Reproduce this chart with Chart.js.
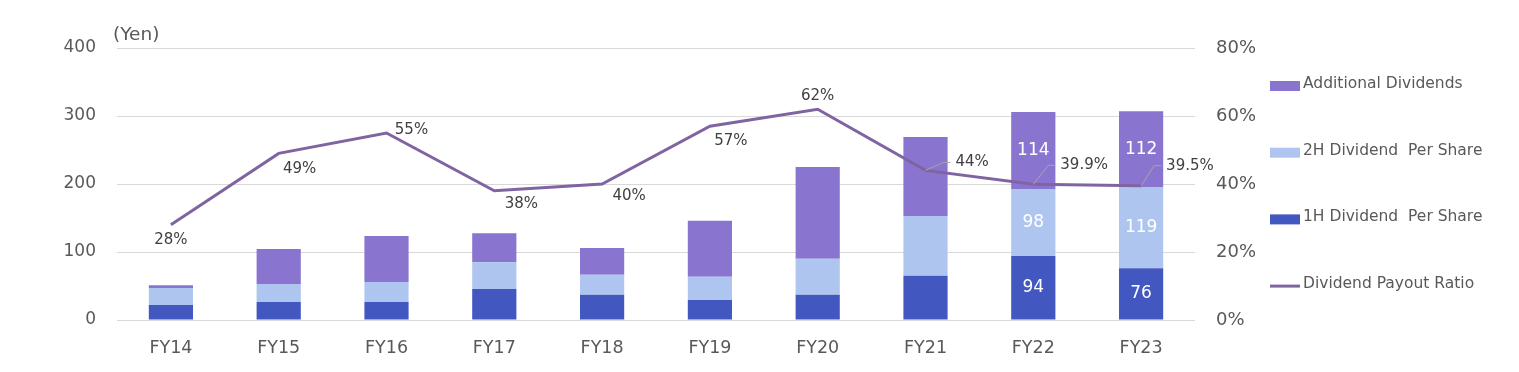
<!DOCTYPE html>
<html lang="en">
<head>
<meta charset="UTF-8">
<title>Dividends per share and payout ratio</title>
<script src="https://cdn.jsdelivr.net/npm/chart.js"></script>
<style>
  body { margin: 0; background: #fff; }
  #wrap { width: 1519px; height: 372px; position: relative; }
</style>
</head>
<body>
<div id="wrap"><canvas id="dividends"></canvas></div>
<script>
// data
const years = ['FY14', 'FY15', 'FY16', 'FY17', 'FY18', 'FY19', 'FY20', 'FY21', 'FY22', 'FY23'];
const firstHalf = [22, 26.5, 26.5, 45.5, 37, 29.5, 37, 65, 94, 76];
const secondHalf = [25, 26.5, 29.5, 39.5, 29.5, 34, 53, 88, 98, 119];
const additional = [4, 51.5, 67.5, 42.5, 39.5, 82.5, 135, 116, 114, 112];
const payoutRatio = [28, 49, 55, 38, 40, 57, 62, 44, 39.9, 39.5];
const payoutText = ['28%', '49%', '55%', '38%', '40%', '57%', '62%', '44%', '39.9%', '39.5%'];
const yenMax = 400, yenStep = 100;
const ratioMax = 80, ratioStep = 20;
const barLabelFrom = 8; // only the last two bars carry numbers

// where each ratio label sits relative to its point [dx, dy, leader?]
const ratioLabelPos = [[0, 15], [21, 16], [25, -3], [27, 13], [27, 12], [21, 15], [0, -13],
                       [30, -8, true], [27, -19, true], [25, -20, true]];

const FONT = '"DejaVu Sans", Verdana, sans-serif';
const TICK = '#595959';

const COLORS = {
  h1: '#4357C0',
  h2: '#AEC6EF',
  add: '#8975CF',
  line: '#8064A2'
};

// legend drawn by hand so it can sit like the original (wide spacing)
const legendOrder = [2, 1, 0, 3];

const extras = {
  id: 'extras',
  afterDatasetsDraw(chart) {
    const ctx = chart.ctx;
    ctx.save();
    // white numbers inside the last bars
    ctx.font = '17px ' + FONT;
    ctx.fillStyle = '#fff';
    ctx.textAlign = 'center';
    ctx.textBaseline = 'middle';
    [0, 1, 2].forEach(di => {
      const meta = chart.getDatasetMeta(di);
      meta.data.forEach((bar, i) => {
        if (i < barLabelFrom) return;
        const midY = (bar.y + bar.base) / 2;
        ctx.fillText(String(chart.data.datasets[di].data[i]), bar.x, midY);
      });
    });

    // payout ratio labels
    const lm = chart.getDatasetMeta(3);
    ctx.font = '15px ' + FONT;
    ctx.fillStyle = '#404040';
    lm.data.forEach((pt, i) => {
      const [dx, dy, leader] = ratioLabelPos[i];
      if (leader) {
        ctx.strokeStyle = '#A6A6A6';
        ctx.lineWidth = 1;
        ctx.beginPath();
        ctx.moveTo(pt.x, pt.y);
        ctx.lineTo(pt.x + dx - 12, pt.y + dy);
        ctx.lineTo(pt.x + dx - 5, pt.y + dy);
        ctx.stroke();
        ctx.textAlign = 'left';
        ctx.fillText(payoutText[i], pt.x + dx, pt.y + dy);
      } else {
        ctx.textAlign = 'center';
        ctx.fillText(payoutText[i], pt.x + dx, pt.y + dy);
      }
    });
    ctx.restore();
  },
  afterDraw(chart) {
    const ctx = chart.ctx;
    const area = chart.chartArea;
    ctx.save();
    ctx.font = '18.5px ' + FONT;
    ctx.fillStyle = TICK;
    ctx.textAlign = 'left';
    ctx.textBaseline = 'middle';
    ctx.fillText('(Yen)', area.left - 4, area.top - 13);

    // legend
    ctx.font = '15.5px ' + FONT;
    const x0 = area.right + 75;
    let y = 86;
    legendOrder.forEach(di => {
      const ds = chart.data.datasets[di];
      if (ds.type === 'line') {
        ctx.strokeStyle = ds.borderColor;
        ctx.lineWidth = 3;
        ctx.beginPath();
        ctx.moveTo(x0, y);
        ctx.lineTo(x0 + 30, y);
        ctx.stroke();
      } else {
        ctx.fillStyle = ds.backgroundColor;
        ctx.fillRect(x0, y - 5, 30, 10);
      }
      ctx.fillStyle = TICK;
      ctx.fillText(ds.label, x0 + 33, y - 2);
      y += 66.7;
    });
    ctx.restore();
  }
};

const ctx = document.getElementById('dividends').getContext('2d');

new Chart(ctx, {
  data: {
    labels: years,
    datasets: [
      { type: 'bar', label: '1H Dividend  Per Share', data: firstHalf, backgroundColor: COLORS.h1, order: 1, yAxisID: 'y' },
      { type: 'bar', label: '2H Dividend  Per Share', data: secondHalf, backgroundColor: COLORS.h2, order: 1, yAxisID: 'y' },
      { type: 'bar', label: 'Additional Dividends', data: additional, backgroundColor: COLORS.add, order: 1, yAxisID: 'y' },
      {
        type: 'line', label: 'Dividend Payout Ratio', data: payoutRatio,
        borderColor: COLORS.line, backgroundColor: COLORS.line, borderWidth: 3,
        pointRadius: 0, tension: 0, order: 0, yAxisID: 'y1'
      }
    ]
  },
  options: {
    responsive: true,
    maintainAspectRatio: false,
    animation: false,
    layout: { padding: { top: 48, right: 264, bottom: 0, left: 0 } },
    datasets: { bar: { barPercentage: 0.41, categoryPercentage: 1 } },
    plugins: {
      legend: { display: false },
      tooltip: { enabled: false }
    },
    scales: {
      x: {
        stacked: true,
        grid: { display: false },
        border: { display: false },
        ticks: { color: TICK, font: { family: FONT, size: 17.5 }, padding: 10 },
        afterFit(scale) { scale.height = 52; }
      },
      y: {
        stacked: true,
        position: 'left',
        min: 0, max: yenMax,
        grid: { color: '#D9D9D9', lineWidth: 1, drawTicks: false },
        border: { display: false },
        ticks: { stepSize: yenStep, color: TICK, font: { family: FONT, size: 17 }, padding: 21 },
        afterFit(scale) { scale.width = 117; }
      },
      y1: {
        position: 'right',
        min: 0, max: ratioMax,
        grid: { display: false, drawTicks: false },
        border: { display: false },
        ticks: {
          stepSize: ratioStep, color: TICK, font: { family: FONT, size: 18 }, padding: 21,
          callback: v => v + '%'
        },
        afterFit(scale) { scale.width = 60; }
      }
    }
  },
  plugins: [extras]
});
</script>
</body>
</html>
